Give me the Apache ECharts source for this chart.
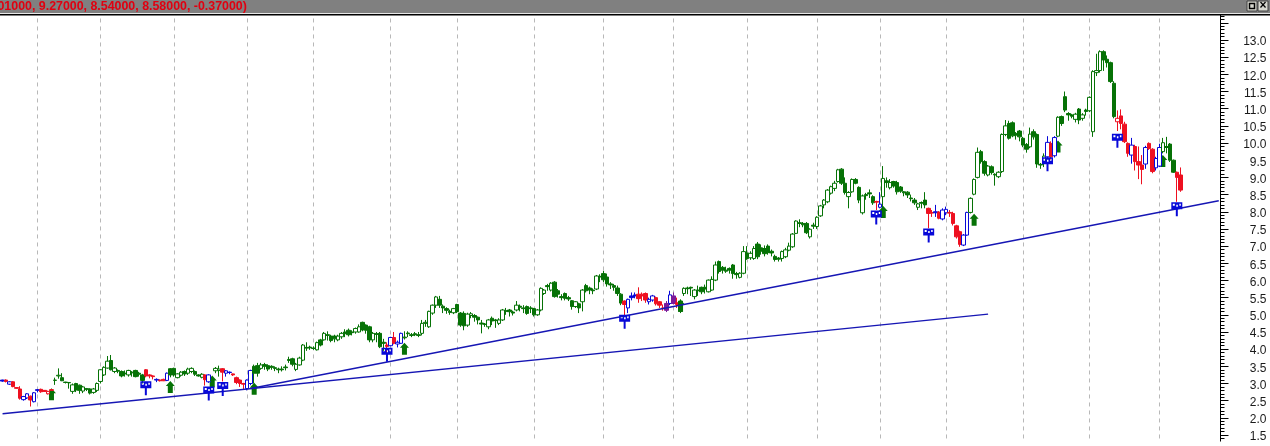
<!DOCTYPE html>
<html><head><meta charset="utf-8">
<style>html,body{margin:0;padding:0;background:#fff}#c{width:1270px;height:446px}</style>
<script src="https://cdn.jsdelivr.net/npm/echarts@6/dist/echarts.min.js"></script>
</head><body><div id="c"></div>
<script>
// bars are [open, close, low, high]; close above open draws hollow, below draws filled
const barsA=[[3.10,3.07,3.05,3.11],[3.10,3.06,3.03,3.12],[2.98,3.05,2.96,3.07],[3.05,2.91,2.89,3.07],[2.88,2.86,2.85,2.89],[2.84,2.57,2.53,2.92],[2.53,2.62,2.50,2.64],[2.58,2.70,2.55,2.72],[2.63,2.52,2.33,2.65],[2.47,2.73,2.45,2.75],
[2.82,2.80,2.74,2.84],[2.83,2.76,2.73,2.85],[2.80,2.77,2.76,2.81],[2.70,2.77,2.68,2.79],[2.82,2.80,2.78,2.84],[3.09,3.10,2.96,3.17],[3.22,3.24,3.14,3.44],[3.17,3.08,3.07,3.30],[3.04,3.03,3.0,3.05],[3.03,3.02,2.85,3.04],
[2.77,2.96,2.7,3.0],[3.0,2.81,2.75,3.02],[2.95,2.80,2.7,2.97],[2.78,2.90,2.72,2.93],[2.85,2.83,2.78,2.87],[2.84,2.72,2.68,2.86],[2.74,2.84,2.70,2.87],[2.80,3.0,2.75,3.03],[3.06,3.40,3.0,3.42],[3.25,3.47,3.22,3.5],
[3.45,3.65,3.43,3.8],[3.67,3.40,3.38,3.83],[3.35,3.45,3.3,3.48],[3.38,3.36,3.3,3.41],[3.35,3.22,3.18,3.38],[3.30,3.28,3.2,3.38],[3.25,3.38,3.2,3.4],[3.33,3.31,3.2,3.36],[3.38,3.20,3.18,3.4],[3.30,3.27,3.2,3.34],
[3.25,3.09,3.0,3.28],[3.40,3.22,3.18,3.42],[3.25,3.22,3.15,3.27],[3.22,3.2,3.12,3.24],[3.12,3.1,3.04,3.15],[3.1,3.08,3.06,3.12],[3.12,3.08,3.07,3.14],[3.09,3.30,3.07,3.32],[3.43,3.25,3.18,3.45],[3.44,3.25,3.2,3.46],
[3.17,3.28,3.15,3.3],[3.24,3.33,3.2,3.36],[3.35,3.28,3.22,3.38],[3.30,3.42,3.25,3.46],[3.35,3.44,3.3,3.47],[3.35,3.27,3.22,3.38],[3.25,3.22,3.2,3.27],[3.18,3.27,3.15,3.3],[3.25,3.11,2.94,3.27],[3.05,3.25,3.02,3.27],
[3.1,3.08,3.0,3.15],[3.37,3.44,3.3,3.48],[3.38,3.42,3.2,3.52],[3.43,3.33,3.06,3.45],[3.3,3.37,3.2,3.39],[3.33,3.32,3.27,3.35],[3.28,3.25,3.22,3.29],[3.17,3.03,2.98,3.2],[3.1,3.0,2.9,3.12],[3.0,2.98,2.82,3.02],
[2.85,3.1,2.8,3.12],[3.0,3.38,2.95,3.4],[3.5,3.3,3.0,3.55],[3.52,3.3,3.2,3.6]];
const barsB=[[3.44,3.54,3.4,3.6],[3.55,3.5,3.4,3.6],[3.52,3.42,3.36,3.56],[3.5,3.47,3.4,3.53],[3.46,3.44,3.36,3.5],[3.42,3.4,3.3,3.46],
[3.42,3.4,3.35,3.5],[3.48,3.46,3.38,3.55],[3.7,3.67,3.6,3.78],[3.72,3.56,3.5,3.75],[3.41,3.56,3.36,3.6],[3.54,3.74,3.52,3.78],[3.68,4.12,3.65,4.15],[4.05,4.03,3.95,4.2],[4.06,4.04,3.98,4.1],[4.03,4.02,3.98,4.08],
[3.98,4.19,3.96,4.22],[4.27,4.12,4.08,4.3],[4.27,4.46,4.25,4.5],[4.42,4.4,4.25,4.52],[4.38,4.25,4.2,4.42],[4.38,4.3,4.2,4.42],[4.27,4.38,4.23,4.42],[4.36,4.46,4.3,4.5],[4.5,4.45,4.35,4.58],[4.55,4.42,4.37,4.6],
[4.5,4.48,4.4,4.55],[4.5,4.6,4.45,4.63],[4.5,4.65,4.48,4.72],[4.78,4.56,4.52,4.8],[4.7,4.55,4.45,4.72],[4.65,4.27,4.2,4.68],[4.27,4.46,4.2,4.5],[4.45,4.43,4.2,4.5],[4.46,4.07,4.03,4.5],[4.2,4.17,3.95,4.3],
[4.12,4.08,3.85,4.2],[4.1,4.34,4.08,4.36],[4.34,4.17,4.14,4.5],[4.15,4.2,4.05,4.25],[4.17,4.46,4.15,4.48],[4.35,4.33,4.28,4.52],[4.47,4.45,4.35,4.52],[4.42,4.4,4.35,4.47],[4.45,4.42,4.38,4.5],[4.42,4.4,4.35,4.5],
[4.46,4.75,4.4,4.85],[4.75,4.78,4.65,4.85],[4.65,5.1,4.62,5.12],[5.05,5.28,5.0,5.3],[5.28,5.52,5.2,5.55],[5.45,5.28,5.2,5.55],[5.25,5.2,5.05,5.3],[5.18,5.13,5.03,5.22],[5.1,5.07,5.0,5.15],[5.06,5.18,5.02,5.2],
[5.3,5.09,5.05,5.32],[5.05,4.7,4.65,5.08]];
const barsC=[[5.04,4.68,4.55,5.1],[4.7,5.02,4.65,5.06],[4.98,5.03,4.9,5.08],[4.98,4.93,4.8,5.02],[4.93,4.85,4.72,4.95],[4.76,4.73,4.46,4.85],[4.73,4.72,4.65,4.76],[4.65,4.85,4.58,4.88],
[4.9,4.82,4.7,4.95],[4.85,4.83,4.62,4.88],[4.75,4.85,4.7,4.9],[4.85,5.14,4.82,5.17],[5.12,5.1,5.0,5.2],[5.14,5.09,4.95,5.17],[5.08,5.05,4.98,5.12],[5.14,5.28,5.1,5.4],[5.25,5.22,5.1,5.3],[5.2,5.18,5.05,5.28],
[5.24,5.04,5.0,5.27],[5.2,5.18,5.05,5.25],[5.18,5.0,4.95,5.2],[5.0,5.14,4.97,5.17],[5.14,5.77,5.1,5.8],[5.62,5.72,5.58,5.75],[5.85,5.82,5.7,5.9],[5.72,5.92,5.68,5.95],[5.95,5.53,5.5,5.98],[5.7,5.6,5.5,5.75],
[5.53,5.5,5.42,5.6],[5.62,5.48,5.42,5.65],[5.5,5.46,5.4,5.55],[5.41,5.24,5.15,5.43],[5.24,5.38,5.2,5.4],[5.32,5.2,5.05,5.35],[5.38,5.72,5.1,5.75],[5.85,5.7,5.65,5.9],[5.78,5.72,5.6,5.82],[5.72,5.7,5.6,5.77],
[5.75,6.13,5.72,6.16],[6.12,6.1,5.95,6.18],[6.2,6.02,5.95,6.28],[6.1,5.9,5.82,6.2],[5.9,5.87,5.75,5.95],[5.85,5.8,5.7,5.9],[5.78,5.62,5.55,5.85],[5.6,5.34,5.28,5.63],[5.4,5.3,4.95,5.42],[5.2,5.45,5.05,5.47],
[5.55,5.5,5.42,5.65],[5.58,5.55,5.48,5.65],[5.6,5.47,5.35,5.8],[5.6,5.55,5.4,5.65],[5.62,5.43,5.35,5.65],[5.38,5.45,5.3,5.5],[5.43,5.55,5.38,5.58],[5.5,5.32,5.27,5.53],[5.38,5.28,5.2,5.4],[5.2,5.18,5.12,5.3],
[5.33,5.13,5.08,5.4],[5.33,5.58,5.28,5.7],[5.55,5.33,5.3,5.65],[5.35,5.3,5.2,5.5]];
const barsD=[[5.4,5.1,5.05,5.45],[5.62,5.77,5.55,5.8],[5.78,5.76,5.6,5.82],[5.8,5.78,5.55,5.82],[5.53,5.72,5.45,5.75],[5.72,5.7,5.55,5.85],[5.8,5.67,5.6,5.82],[5.8,5.75,5.62,5.88],[5.67,6.01,5.65,6.03],[5.72,6.03,5.7,6.12],
[6.01,6.45,5.98,6.55],[6.55,6.26,6.2,6.58],[6.38,6.3,6.2,6.42],[6.3,6.27,6.22,6.4],[6.35,6.3,6.2,6.38],[6.45,6.2,6.05,6.48],[6.2,6.17,6.05,6.25],[6.09,6.21,6.06,6.24],[6.21,6.84,6.18,7.0],[6.8,6.64,6.6,7.0],
[6.66,6.79,6.6,6.85],[6.64,6.93,6.6,7.0],[7.06,6.69,6.62,7.12],[6.95,6.85,6.75,7.05],[6.93,6.78,6.7,7.02],[7.0,6.81,6.75,7.05],[6.85,6.8,6.7,6.9],[6.7,6.61,6.55,6.75],[6.65,6.62,6.55,6.68],[6.64,6.84,6.55,6.87],
[6.69,6.89,6.65,6.95],[6.88,7.0,6.85,7.1],[6.98,7.35,6.95,7.38],[7.37,7.73,7.35,7.75],[7.68,7.66,7.55,7.78],[7.66,7.62,7.55,7.7],[7.66,7.39,7.35,7.7],[7.27,7.49,7.22,7.52],[7.61,7.58,7.5,7.68],[7.57,7.84,7.5,7.87],
[7.88,8.17,7.85,8.2],[8.2,8.34,8.1,8.37],[8.29,8.63,8.25,8.66],[8.54,8.73,8.5,8.76],[8.68,8.83,8.6,8.9],[8.88,9.22,8.85,9.25],[9.24,8.83,8.78,9.27],[8.83,8.56,8.5,9.0],[8.44,8.56,8.1,8.6],[8.58,8.94,8.55,8.97],
[8.94,8.83,8.8,8.98],[8.71,8.34,8.25,8.74],[7.97,8.46,7.92,8.5],[8.5,8.47,8.35,8.55],[8.55,8.52,8.4,8.65],[8.44,8.26,8.2,8.48],[8.3,8.28,8.05,8.32],[8.13,8.22,8.1,8.57],[8.44,8.97,7.9,9.33],[8.9,8.85,8.7,9.0],
[8.7,8.85,8.65,8.95],[8.88,8.75,8.7,8.9],[8.85,8.58,8.5,8.9],[8.72,8.6,8.55,8.75],[8.58,8.55,8.45,8.6],[8.57,8.49,8.4,8.6],[8.4,8.38,8.3,8.5],[8.34,8.26,8.2,8.4]];
const barsE=[[8.13,8.23,8.05,8.26],[8.27,8.25,8.1,8.3],[8.34,8.2,8.1,8.57],[8.1,7.95,7.52,8.12],[7.98,7.96,7.85,8.05],[8.0,7.97,7.85,8.2],[7.99,7.81,7.78,8.02],[7.79,8.05,7.75,8.1],[7.97,8.07,7.9,8.15],[7.98,7.96,7.85,8.05],
[7.95,7.66,7.6,8.0],[7.59,7.27,7.22,7.62],[7.42,7.05,6.98,7.45],[7.03,7.32,7.0,7.35],[7.32,7.98,7.3,8.0],[7.98,8.39,7.95,8.42],[8.51,8.94,8.48,8.97],[9.0,9.73,8.97,9.87]];
const barsF=[[9.75,9.46,9.4,9.8],[9.46,9.12,9.05,9.5],[9.07,9.33,9.03,9.36],[9.31,9.14,9.08,9.35],[9.09,9.07,8.76,9.12],[9.02,9.15,8.98,9.18],[9.17,10.25,9.13,10.28],[10.25,10.5,10.2,10.67],[10.57,10.14,10.1,10.65],[10.59,10.21,10.17,10.63],
[10.28,10.23,10.1,10.32],[10.35,10.18,10.05,10.38],[10.14,9.94,9.88,10.18],[9.96,9.82,9.72,10.0],[9.89,10.26,9.85,10.45],[10.33,10.18,10.1,10.4],[10.25,9.39,9.28,10.28],[9.38,9.36,9.25,9.42],[9.41,9.62,9.3,9.7],[9.6,10.02,9.55,10.2],
[9.99,9.6,9.52,10.05],[9.63,10.16,9.58,10.2],[10.2,10.75,10.17,10.78],[10.77,10.57,10.5,10.8],[11.35,10.96,10.9,11.5],[10.86,10.82,10.65,10.9],[10.82,10.78,10.72,10.85],[10.69,10.84,10.6,10.88],[10.99,10.67,10.55,11.02],[10.72,10.82,10.65,10.87],
[10.96,10.92,10.8,11.0],[10.94,11.33,10.9,11.36],[10.33,12.08,10.18,12.12],[12.05,12.11,11.95,12.6]];
const barsG=[[12.11,12.66,12.05,12.7],[12.66,12.42,12.1,12.7],[12.44,12.34,12.2,12.55],[12.34,11.79,11.75,12.37],[11.74,10.77,10.72,11.8],[10.62,10.72,10.35,10.95],[10.79,10.57,10.4,10.98],[10.55,10.04,10.0,10.62],[9.99,9.7,9.6,10.02],
[9.65,9.94,9.4,10.15],[9.9,9.46,9.2,9.95],[9.46,9.36,8.95,9.9],[9.36,9.23,8.8,9.65],[9.39,9.87,9.25,9.92],[9.99,9.84,9.8,10.02],[9.82,9.17,9.12,9.85],[9.28,9.55,9.2,9.6],[9.33,9.87,9.3,9.98],
[9.75,10.01,9.7,10.15],[9.9,9.87,9.7,10.18],[9.97,9.5,9.45,10.0],[9.5,9.15,9.13,9.52],[9.15,9.0,8.29,9.17],[9.07,8.63,8.58,9.29]];
const redBars=[1,3,4,5,8,11,12,13,14,41,42,43,45,46,58,63,66,67,68,69,110,112,178,182,183,184,187,188,189,193,250];
const blueBars=[0,2,6,7,9,10,44,47,59,64,65,70,71,111,113,114,179,180,181,185,186,191,251];
const purpleBars=[190,192];
const flagBars=[41,59,63,110,178,250,265,299,319,336];
const flagPrices=[2.86,2.71,2.84,3.84,4.80,7.83,7.31,9.38,10.07,8.07];
const arrowBars=[14,48,60,72,115,194,252,278,302,332];
const arrowPrices=[2.69,2.90,3.06,2.85,4.01,5.26,7.99,7.77,9.90,9.48];
const monthBars=[10,28,49,70,89,111,130,152,172,192,213,233,251,270,292,311,331];
const trendLower=[[0,2.12],[282,5.02]];
const trendUpper=[[71,2.855],[348,8.32]];
const headerText="(8.01000, 9.27000, 8.54000, 8.58000, -0.37000)";
const slotCount=349;

const bars=[].concat(barsA,barsB,barsC,barsD,barsE,barsF,barsG);
// the red and blue runs past barsD are counted from the start of each later block
const eStart=barsA.length+barsB.length+barsC.length+barsD.length;
const lateRed=[3,4,6,9,10,11,12].map(k=>eStart+k);
const lateBlue=[5,7,8,13,14].map(k=>eStart+k);
const fStart=eStart+barsE.length;
const lastRed=[20].map(k=>fStart+k);
const lastBlue=[19,21].map(k=>fStart+k);
const gStart=fStart+barsF.length;
const gRed=[5,6,7,8,10,11,12,14,15,22,23].map(k=>gStart+k);
const gBlue=[9,13,16,17].map(k=>gStart+k);
const allRed=new Set([...redBars,...lateRed,...lastRed,...gRed]);
const allBlue=new Set([...blueBars,...lateBlue,...lastBlue,...gBlue]);
const allPurple=new Set(purpleBars);
const GREEN='#067206',RED='#ee1020',BLUE='#0808d8',PURPLE='#7a1a9a',LINE='#1616b4';
const colorOf=i=>allRed.has(i)?RED:allBlue.has(i)?BLUE:allPurple.has(i)?PURPLE:GREEN;
const candleData=bars.map((b,i)=>{const c=colorOf(i);const fill=b[1]>b[0]?'#fff':c;
 return {value:b,itemStyle:{color:fill,color0:fill,borderColor:c,borderColor0:c,borderColorDoji:c}};});
const categories=Array.from({length:slotCount},(_,i)=>String(i));
const chart=echarts.init(document.getElementById('c'),null,{renderer:'canvas'});
const FLAG='path://M0 0H11V7H6.5V14H4.5V7H0Z M1.5 1.5V3.5H3.5V1.5Z M5 2.5V4.5H6.5V2.5Z M8 1.5V3.5H9.5V1.5Z';
const ARROW='path://M4.5 0L9 5H7V12H2V5H0Z';
chart.setOption({
 animation:false,backgroundColor:'#fff',
 grid:{left:0.8,right:49.5,top:5.65,bottom:-6.2,containLabel:false,outerBoundsMode:'none'},
 xAxis:{type:'category',data:categories,axisLine:{show:false},axisTick:{show:false},axisLabel:{show:false},splitLine:{show:false}},
 yAxis:{type:'value',position:'right',min:1,max:14,interval:0.5,scale:true,
  axisLine:{show:true,onZero:false,lineStyle:{color:'#000',width:1}},
  axisTick:{show:true,length:8,lineStyle:{color:'#000',width:1}},
  minorTick:{show:true,splitNumber:5,length:4,lineStyle:{color:'#000',width:1}},
  splitLine:{show:false},minorSplitLine:{show:false},
  axisLabel:{align:'right',margin:46,color:'#1a1a1a',fontFamily:'Liberation Sans',fontSize:12,verticalAlign:'top',lineHeight:4,
   formatter:v=>(v>=1.5&&v<=13)?v.toFixed(1):''}},
 series:[
  {type:'candlestick',z:2,barWidth:4,data:candleData,
   markLine:{silent:true,z:0,symbol:'none',label:{show:false},animation:false,
    lineStyle:{color:'#b8b8b8',type:[4,4],width:1},
    data:monthBars.map(i=>[{xAxis:i,yAxis:1.4},{xAxis:i,yAxis:13.7}])}},
  {type:'scatter',z:1,symbol:ARROW,symbolSize:[9,12],itemStyle:{color:GREEN,opacity:1},silent:true,
   data:arrowBars.map((b,i)=>[b,arrowPrices[i]])},
  {type:'line',z:3,data:trendLower,showSymbol:false,lineStyle:{color:LINE,width:1.4},silent:true},
  {type:'line',z:3,data:trendUpper,showSymbol:false,lineStyle:{color:LINE,width:1.4},silent:true},
  {type:'scatter',z:4,symbol:FLAG,symbolSize:[11,14],itemStyle:{color:BLUE,opacity:1},silent:true,
   data:flagBars.map((b,i)=>[b,flagPrices[i]])}
 ],
 graphic:[
  {type:'rect',z:100,shape:{x:0,y:0,width:1270,height:13},style:{fill:'#808080'}},
  {type:'rect',z:100,shape:{x:0,y:13,width:1270,height:1},style:{fill:'#e8e8e8'}},
  {type:'rect',z:100,shape:{x:0,y:14,width:1270,height:1.5},style:{fill:'#000'}},
  {type:'rect',z:100,shape:{x:1200,y:441.5,width:30,height:5},style:{fill:'#fff'}},
  {type:'text',z:101,x:-17,y:6.5,style:{text:headerText,fill:'#e00010',font:'bold 12.4px "Liberation Sans"',textVerticalAlign:'middle',textBaseline:'middle'}},
  {type:'rect',z:101,shape:{x:1247,y:1,width:10,height:10},style:{fill:'#d8d8d0',stroke:'#404040',lineWidth:1}},
  {type:'rect',z:101,shape:{x:1249.5,y:3.5,width:5,height:5},style:{fill:'#d8d8d0',stroke:'#000',lineWidth:1.5}},
  {type:'rect',z:101,shape:{x:1258,y:1,width:10,height:10},style:{fill:'#d8d8d0',stroke:'#404040',lineWidth:1}},
  {type:'text',z:102,x:1263,y:6,style:{text:'×',fill:'#000',font:'bold 12px "Liberation Sans"',textAlign:'center',textVerticalAlign:'middle',textBaseline:'middle'}}
 ]
});
</script></body></html>
